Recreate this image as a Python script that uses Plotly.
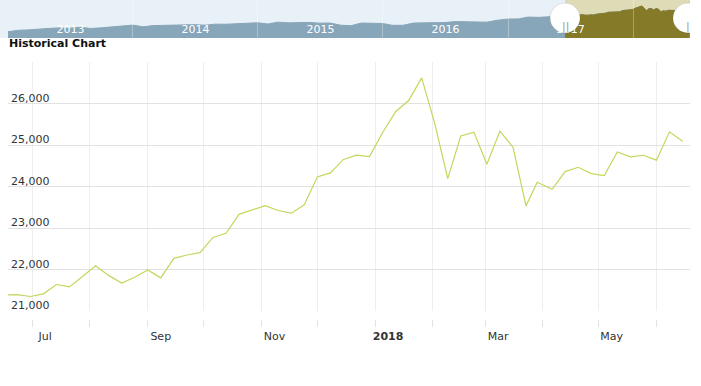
import plotly.graph_objects as go

# ---- main chart data (weekly closes) ----
dates = [
    "2017-06-16", "2017-06-23", "2017-06-30", "2017-07-07", "2017-07-14", "2017-07-21",
    "2017-07-28", "2017-08-04", "2017-08-11", "2017-08-18", "2017-08-25", "2017-09-01",
    "2017-09-08", "2017-09-15", "2017-09-22", "2017-09-29", "2017-10-06", "2017-10-13",
    "2017-10-20", "2017-10-27", "2017-11-03", "2017-11-10", "2017-11-17", "2017-11-24",
    "2017-12-01", "2017-12-08", "2017-12-15", "2017-12-22", "2017-12-29", "2018-01-05",
    "2018-01-12", "2018-01-19", "2018-01-26", "2018-02-02", "2018-02-09", "2018-02-16",
    "2018-02-23", "2018-03-02", "2018-03-09", "2018-03-16", "2018-03-23", "2018-03-29",
    "2018-04-06", "2018-04-13", "2018-04-20", "2018-04-27", "2018-05-04", "2018-05-11",
    "2018-05-18", "2018-05-25", "2018-06-01", "2018-06-08", "2018-06-15",
]
values = [
    21384, 21395, 21350, 21414, 21638, 21580,
    21830, 22092, 21858, 21675, 21814, 21988,
    21798, 22268, 22350, 22405, 22773, 22871,
    23329, 23434, 23539, 23422, 23358, 23558,
    24232, 24329, 24652, 24754, 24719, 25296,
    25803, 26072, 26617, 25521, 24191, 25219,
    25310, 24538, 25336, 24947, 23533, 24103,
    23933, 24360, 24463, 24311, 24263, 24831,
    24715, 24753, 24635, 25317, 25090,
]

# ---- navigator data (monthly closes before the selected range) ----
nav_dates = [
    "2013-01-01", "2013-01-31", "2013-02-28", "2013-03-28", "2013-04-30", "2013-05-31", "2013-06-28",
    "2013-07-31", "2013-08-30", "2013-09-30", "2013-10-31", "2013-11-29", "2013-12-31",
    "2014-01-31", "2014-02-28", "2014-03-31", "2014-04-30", "2014-05-30", "2014-06-30",
    "2014-07-31", "2014-08-29", "2014-09-30", "2014-10-31", "2014-11-28", "2014-12-31",
    "2015-01-30", "2015-02-27", "2015-03-31", "2015-04-30", "2015-05-29", "2015-06-30",
    "2015-07-31", "2015-08-31", "2015-09-30", "2015-10-30", "2015-11-30", "2015-12-31",
    "2016-01-29", "2016-02-29", "2016-03-31", "2016-04-29", "2016-05-31", "2016-06-30",
    "2016-07-29", "2016-08-31", "2016-09-30", "2016-10-31", "2016-11-30", "2016-12-30",
    "2017-01-31", "2017-02-28", "2017-03-31", "2017-04-28", "2017-05-31",
]
nav_values = [
    13104, 13861, 14054, 14579, 14840, 15116, 14910,
    15500, 14810, 15130, 15546, 16086, 16577,
    15699, 16322, 16458, 16581, 16717, 16827,
    16563, 17098, 17043, 17391, 17828, 17823,
    17165, 18133, 17776, 17841, 18011, 17620,
    17690, 16528, 16285, 17664, 17720, 17425,
    16466, 16517, 17685, 17774, 17787, 17930,
    18432, 18401, 18308, 18142, 19124, 19763,
    19864, 20812, 20663, 20941, 21009,
]

# ---- axis ticks ----
y_ticks = [21000, 22000, 23000, 24000, 25000, 26000, 27000]
y_tick_text = ["21,000", "22,000", "23,000", "24,000", "25,000", "26,000", ""]
x_ticks = ["2017-07-01", "2017-08-01", "2017-09-01", "2017-10-01", "2017-11-01", "2017-12-01",
           "2018-01-01", "2018-02-01", "2018-03-01", "2018-04-01", "2018-05-01", "2018-06-01"]
x_tick_text = ["Jul", "", "Sep", "", "Nov", "", "<b>2018</b>", "", "Mar", "", "May", ""]
main_range = ["2017-06-18", "2018-06-19"]
nav_range = ["2013-01-01", "2018-06-16"]
handle_dates = ["2017-06-16", "2018-06-10"]

W, H = 701, 386
FONT = "DejaVu Sans"

fig = go.Figure()

# navigator: full history (blue) and selected part (olive)
fig.add_trace(go.Scatter(
    x=nav_dates + dates, y=nav_values + values, xaxis="x2", yaxis="y2",
    mode="lines", fill="tozeroy", fillcolor="#88a6b9",
    line=dict(color="#88a6b9", width=1), hoverinfo="skip"))
fig.add_trace(go.Scatter(
    x=dates, y=values, xaxis="x3", yaxis="y2",
    mode="lines", fill="tozeroy", fillcolor="#857a27",
    line=dict(color="#857a27", width=1), hoverinfo="skip"))

# main line
fig.add_trace(go.Scatter(
    x=dates, y=values, mode="lines",
    line=dict(color="#c2d75c", width=1.2)))

shapes = [
    dict(type="rect", xref="paper", x0=-8 / 682, x1=1, yref="y2 domain", y0=0, y1=1,
         fillcolor="#e9f1f8", line=dict(width=0), layer="below"),
    dict(type="rect", xref="x2", x0=handle_dates[0], x1=nav_range[1], yref="y2 domain", y0=0, y1=1,
         fillcolor="#dedbb7", line=dict(width=0), layer="below"),
]
annotations = [
    dict(text="<b>Historical Chart</b>", xref="paper", yref="paper", x=0, y=(H - 43) / H,
         xanchor="left", yanchor="middle", showarrow=False, xshift=-1, yshift=-1,
         font=dict(family=FONT, size=11, color="#111111")),
]
# y-axis labels drawn inside the plot, above their gridlines
for v, t in zip(y_ticks, y_tick_text):
    if t:
        annotations.append(dict(text=t, xref="paper", x=0, xanchor="left", xshift=1,
                                yref="y", y=v, yanchor="bottom", yshift=-3, showarrow=False,
                                font=dict(family=FONT, size=11, color="#333333")))
for hd, label in zip(handle_dates, ["||", "|"]):
    shapes.append(dict(type="circle", xref="x2", xsizemode="pixel", xanchor=hd, x0=-15, x1=15,
                       yref="paper", ysizemode="pixel", yanchor=(H - 18) / H, y0=-15, y1=15,
                       fillcolor="white", line=dict(color="rgba(0,0,0,0.10)", width=1), layer="above"))
    annotations.append(dict(text=label, xref="x2", x=hd, yref="paper", y=(H - 18) / H,
                            showarrow=False, font=dict(family=FONT, size=11, color="#9a9a9a")))

fig.update_layout(
    width=W, height=H,
    margin=dict(l=8, r=11, t=0, b=0, autoexpand=False),
    paper_bgcolor="white", plot_bgcolor="white",
    showlegend=False,
    font=dict(family=FONT, size=11, color="#333333"),
    shapes=shapes, annotations=annotations,
    xaxis=dict(
        domain=[0, 1], anchor="free", position=(H - 319) / H,
        range=main_range, tickvals=x_ticks, ticktext=x_tick_text,
        ticks="outside", ticklen=7, tickcolor="#e3e3e3", tickwidth=1,
        showgrid=True, gridcolor="#eeeeee", gridwidth=1,
        showline=False, zeroline=False, ticklabelshift=13,
        tickfont=dict(family=FONT, size=11, color="#333333"),
    ),
    yaxis=dict(
        domain=[(H - 311) / H, (H - 62) / H], anchor="x",
        range=[21000, 27000], tickvals=y_ticks, showticklabels=False, ticks="",
        showgrid=True, gridcolor="#e2e2e2", gridwidth=1,
        showline=False, zeroline=False,
    ),
    xaxis2=dict(
        domain=[0, 1], anchor="y2", range=nav_range,
        dtick="M12", tick0="2013-01-01", tickformat="%Y", ticklabelmode="period",
        ticks="", ticklabelposition="inside", layer="above traces",
        showgrid=False, showline=False, zeroline=False,
        tickfont=dict(family=FONT, size=11, color="white"),
    ),
    xaxis3=dict(
        matches="x2", overlaying="x2", anchor="y2", range=nav_range,
        dtick="M12", tick0="2013-01-01", showticklabels=False,
        ticks="inside", ticklen=38, tickcolor="rgba(255,255,255,0.3)", tickwidth=1,
        layer="above traces", showgrid=False, showline=False, zeroline=False,
    ),
    yaxis2=dict(
        domain=[(H - 38) / H, 1], anchor="x2", range=[9800, 29800],
        showgrid=False, showticklabels=False, zeroline=False, ticks="",
    ),
)

fig.write_html("out.html", config={"displayModeBar": False},
               post_script="document.body.style.margin='0px';")
